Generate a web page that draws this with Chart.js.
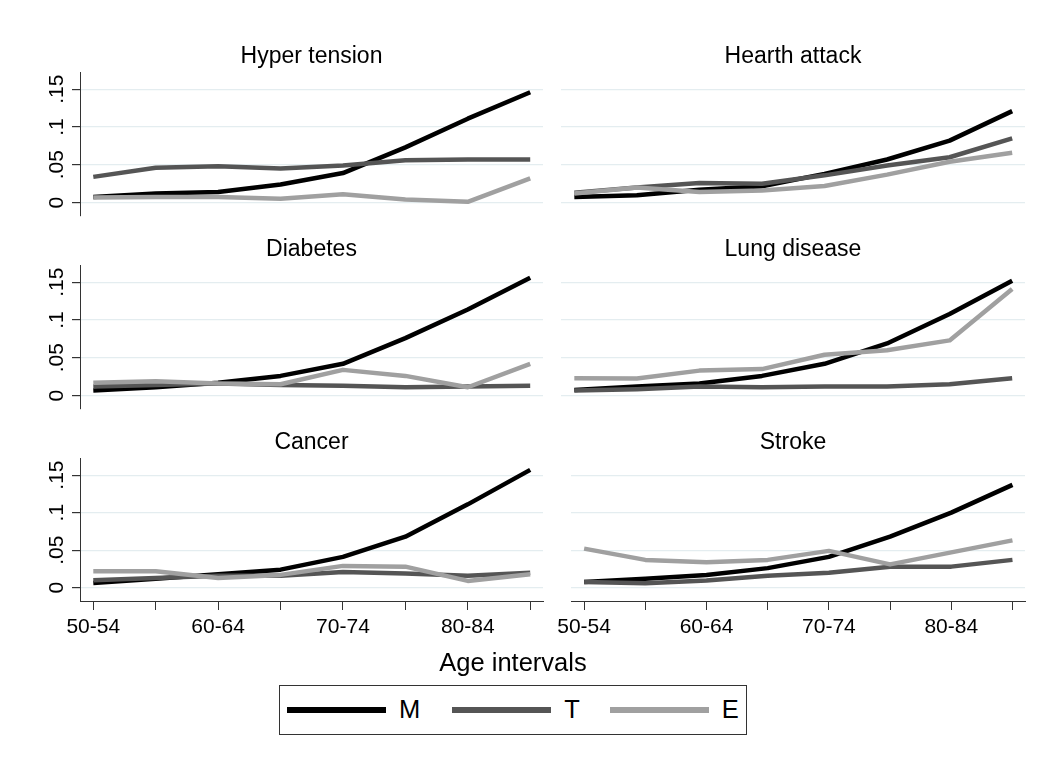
<!DOCTYPE html>
<html>
<head>
<meta charset="utf-8">
<script src="https://cdn.jsdelivr.net/npm/chart.js@4/dist/chart.umd.min.js"></script>
<style>
  html, body { margin: 0; padding: 0; background: #fff; }
  #wrap { position: relative; width: 1049px; height: 767px; background: #fff; overflow: hidden;
          font-family: "Liberation Sans", Arial, sans-serif; color: #000; }
  canvas { position: absolute; }
  .ptitle { position: absolute; font-size: 23px; line-height: 23px; white-space: nowrap; transform: translateX(-50%); }
  #xtitle { position: absolute; font-size: 25.5px; line-height: 25.5px; white-space: nowrap; transform: translateX(-50%); }
  #legend { position: absolute; left: 279px; top: 685px; width: 466px; height: 48px; border: 1px solid #333;
            display: flex; align-items: center; box-sizing: content-box; }
  .litem { display: flex; align-items: center; }
  .lsw { width: 99px; height: 5.5px; }
  .llab { font-size: 25.5px; line-height: 25.5px; margin-left: 13px; }
</style>
</head>
<body>
<div id="wrap"></div>
<script>
// ---------- data ----------
const categories = ['50-54','55-59','60-64','65-69','70-74','75-79','80-84','85-89'];
const xTickLabels = ['50-54','','60-64','','70-74','','80-84',''];
const yTickValues = [0, 0.05, 0.1, 0.15];
const yTickLabels = ['0', '.05', '.1', '.15'];
const seriesNames = ['M', 'T', 'E'];
const seriesColors = ['#000000', '#555555', '#a0a0a0'];
const panelTitles = ['Hyper tension', 'Hearth attack', 'Diabetes', 'Lung disease', 'Cancer', 'Stroke'];
const xAxisTitle = 'Age intervals';

const hyperM = [0.0075, 0.012, 0.014, 0.024, 0.039, 0.073, 0.111, 0.146];
const hyperT = [0.034, 0.046, 0.048, 0.045, 0.049, 0.056, 0.057, 0.057];
const hyperE = [0.0066, 0.0075, 0.0075, 0.005, 0.011, 0.004, 0.001, 0.032];

const heartM = [0.0075, 0.0097, 0.017, 0.0216, 0.038, 0.057, 0.082, 0.121];
const heartT = [0.013, 0.020, 0.026, 0.025, 0.036, 0.049, 0.060, 0.085];
const heartE = [0.012, 0.020, 0.014, 0.016, 0.022, 0.037, 0.054, 0.066];

const diabM = [0.0066, 0.011, 0.017, 0.026, 0.042, 0.076, 0.114, 0.156];
const diabT = [0.012, 0.014, 0.016, 0.014, 0.013, 0.011, 0.012, 0.013];
const diabE = [0.017, 0.019, 0.016, 0.015, 0.034, 0.026, 0.011, 0.042];

const lungM = [0.0075, 0.012, 0.016, 0.026, 0.042, 0.069, 0.108, 0.152];
const lungT = [0.0066, 0.0084, 0.012, 0.011, 0.012, 0.012, 0.015, 0.023];
const lungE = [0.023, 0.0226, 0.033, 0.035, 0.054, 0.060, 0.073, 0.141];

const cancerM = [0.0062, 0.012, 0.018, 0.024, 0.041, 0.068, 0.111, 0.157];
const cancerT = [0.0097, 0.013, 0.016, 0.016, 0.021, 0.019, 0.016, 0.020];
const cancerE = [0.022, 0.022, 0.013, 0.017, 0.029, 0.028, 0.009, 0.018];

const strokeM = [0.0075, 0.012, 0.017, 0.026, 0.041, 0.068, 0.100, 0.137];
const strokeT = [0.0075, 0.006, 0.0095, 0.016, 0.020, 0.028, 0.028, 0.037];
const strokeE = [0.052, 0.037, 0.034, 0.037, 0.049, 0.031, 0.047, 0.063];

const panelSeries = [
  [hyperM, hyperT, hyperE],
  [heartM, heartT, heartE],
  [diabM, diabT, diabE],
  [lungM, lungT, lungE],
  [cancerM, cancerT, cancerE],
  [strokeM, strokeT, strokeE]
];

// ---------- layout ----------
const wrap = document.getElementById('wrap');
const colLeft = [80, 561], colRight = [543, 1025];
const rowTop = [71.7, 265, 458.3], rowBottom = [215.7, 409.3, 601.7];
const titleBaseline = [63, 256.3, 449.6];
const Y_MIN = -0.0178, Y_MAX = 0.1728;
const X_MIN = -0.213, X_MAX = 7.205;
const AXIS_COLOR = '#333333';
const GRID_COLOR = '#e4edf0';
const FONT = '"Liberation Sans", Arial, sans-serif';

panelSeries.forEach((series, p) => {
  const col = p % 2, row = Math.floor(p / 2);
  const isLeft = col === 0, isBottom = row === 2;
  const yAxisW = isLeft ? 80 : 9;
  const canvasLeft = colLeft[col] - yAxisW;
  const canvasRight = isLeft ? 552 : 1049;
  const padTop = 18, padBottom = 18;
  const xAxisH = 50;
  const canvasTop = rowTop[row] - padTop;
  const chartH = rowBottom[row] - rowTop[row];
  const canvasH = chartH + padTop + (isBottom ? xAxisH : padBottom);
  const canvasW = canvasRight - canvasLeft;

  const cv = document.createElement('canvas');
  cv.width = Math.round(canvasW); cv.height = Math.round(canvasH);
  cv.style.left = canvasLeft + 'px'; cv.style.top = canvasTop + 'px';
  cv.style.width = Math.round(canvasW) + 'px'; cv.style.height = Math.round(canvasH) + 'px';
  wrap.appendChild(cv);

  const t = document.createElement('div');
  t.className = 'ptitle';
  t.textContent = panelTitles[p];
  t.style.left = ((colLeft[col] + colRight[col]) / 2) + 'px';
  t.style.top = (titleBaseline[row] - 19.5) + 'px';
  wrap.appendChild(t);

  new Chart(cv, {
    type: 'line',
    data: {
      datasets: series.map((vals, s) => ({
        label: seriesNames[s],
        data: vals.map((v, i) => ({ x: i, y: v })),
        borderColor: seriesColors[s],
        backgroundColor: seriesColors[s],
        borderWidth: 4.5,
        pointRadius: 0,
        tension: 0,
        borderJoinStyle: 'round',
        order: 2 - s,
        clip: false
      }))
    },
    options: {
      responsive: false,
      animation: false,
      devicePixelRatio: 1,
      layout: { padding: { top: padTop, bottom: isBottom ? 0 : padBottom, left: 0, right: canvasRight - colRight[col] } },
      plugins: { legend: { display: false }, tooltip: { enabled: false }, title: { display: false } },
      scales: {
        x: {
          type: 'linear',
          display: isBottom,
          min: X_MIN, max: X_MAX,
          afterBuildTicks: (sc) => { sc.ticks = categories.map((c, i) => ({ value: i })); },
          afterFit: (sc) => { if (isBottom) sc.height = xAxisH; },
          grid: { drawOnChartArea: false, drawTicks: true, tickLength: 9, tickColor: AXIS_COLOR, color: AXIS_COLOR },
          border: { display: true, color: AXIS_COLOR, width: 1 },
          ticks: {
            autoSkip: false, maxRotation: 0, minRotation: 0, padding: 5,
            color: '#000', font: { family: FONT, size: 21 },
            callback: (v, i) => xTickLabels[i]
          }
        },
        y: {
          type: 'linear',
          min: Y_MIN, max: Y_MAX,
          afterBuildTicks: (sc) => { sc.ticks = yTickValues.map(v => ({ value: v })); },
          afterFit: (sc) => { sc.width = yAxisW; },
          grid: { drawOnChartArea: true, drawTicks: isLeft, tickLength: isLeft ? 8 : 0, tickColor: AXIS_COLOR, color: GRID_COLOR, lineWidth: 1.2 },
          border: { display: isLeft, color: AXIS_COLOR, width: 1 },
          ticks: {
            display: isLeft, autoSkip: false, minRotation: 90, maxRotation: 90, padding: 0,
            crossAlign: 'center',
            color: '#000', font: { family: FONT, size: 21 },
            callback: (v, i) => yTickLabels[i]
          }
        }
      }
    }
  });
});

// x axis title
const xt = document.createElement('div');
xt.id = 'xtitle';
xt.textContent = xAxisTitle;
xt.style.left = '513px';
xt.style.top = (672 - 21.6) + 'px';
wrap.appendChild(xt);

// legend
const lg = document.createElement('div');
lg.id = 'legend';
const lgOffsets = [7, 32, 30];
seriesNames.forEach((n, s) => {
  const it = document.createElement('div');
  it.className = 'litem';
  it.style.marginLeft = lgOffsets[s] + 'px';
  const sw = document.createElement('div');
  sw.className = 'lsw';
  sw.style.background = seriesColors[s];
  const lab = document.createElement('span');
  lab.className = 'llab';
  lab.textContent = n;
  it.appendChild(sw); it.appendChild(lab);
  lg.appendChild(it);
});
wrap.appendChild(lg);
</script>
</body>
</html>
